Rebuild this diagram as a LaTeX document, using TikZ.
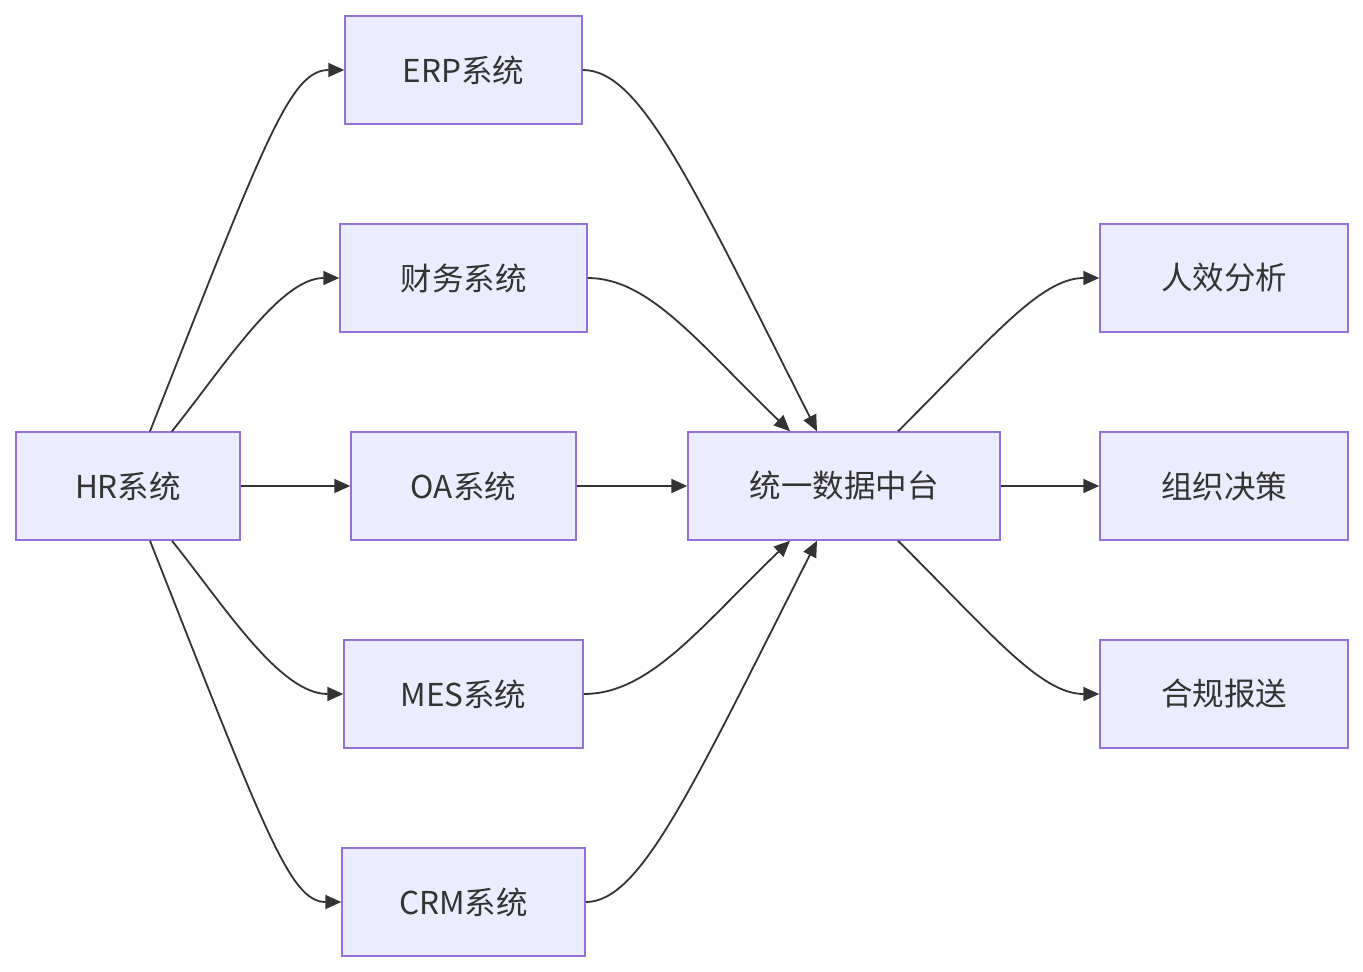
\documentclass[tikz,border=0pt]{standalone}
\usepackage{fontspec}
\setmainfont{Noto Sans CJK SC}
\usetikzlibrary{arrows.meta,calc}
\definecolor{boxfill}{HTML}{ECECFF}
\definecolor{boxline}{HTML}{9370DB}
\definecolor{ink}{HTML}{333333}
\begin{document}
\begin{tikzpicture}[x=1pt,y=-1pt,
  box/.style={draw=boxline,fill=boxfill,line width=1.5pt,minimum height=108pt,inner sep=0pt,text=ink,font=\fontsize{31.5}{36}\selectfont},
  link/.style={draw=ink,line width=1.8pt,-{Triangle[length=16pt,width=14pt]}}]
\useasboundingbox (0,0) rectangle (1363,972);
\node[box,minimum width=224pt] (hr) at (128,486) {HR系统};
\node[box,minimum width=237pt] (erp) at (463.5,70) {ERP系统};
\node[box,minimum width=247pt] (fin) at (463.5,278) {财务系统};
\node[box,minimum width=225pt] (oa) at (463.5,486) {OA系统};
\node[box,minimum width=239pt] (mes) at (463.5,694) {MES系统};
\node[box,minimum width=243pt] (crm) at (463.5,902) {CRM系统};
\node[box,minimum width=312pt] (hub) at (844,486) {统一数据中台};
\node[box,minimum width=248pt] (eff) at (1224,278) {人效分析};
\node[box,minimum width=248pt] (org) at (1224,486) {组织决策};
\node[box,minimum width=248pt] (cmp) at (1224,694) {合规报送};

\draw[link] ([xshift=22pt]hr.north) .. controls (265,140) and (290,70) .. (erp.west);
\draw[link] ([xshift=44pt]hr.north) .. controls (225,365) and (280,278) .. (fin.west);
\draw[link] (hr.east) -- (oa.west);
\draw[link] ([xshift=44pt]hr.south) .. controls (225,607) and (280,694) .. (mes.west);
\draw[link] ([xshift=22pt]hr.south) .. controls (265,832) and (290,902) .. (crm.west);

\draw[link] (erp.east) .. controls (640,70) and (690,180) .. ([xshift=-27pt]hub.north);
\draw[link] (fin.east) .. controls (650,278) and (700,345) .. ([xshift=-54pt]hub.north);
\draw[link] (oa.east) -- (hub.west);
\draw[link] (mes.east) .. controls (650,694) and (700,627) .. ([xshift=-54pt]hub.south);
\draw[link] (crm.east) .. controls (640,902) and (690,792) .. ([xshift=-27pt]hub.south);

\draw[link] ([xshift=54pt]hub.north) .. controls (990,340) and (1040,278) .. (eff.west);
\draw[link] (hub.east) -- (org.west);
\draw[link] ([xshift=54pt]hub.south) .. controls (990,632) and (1040,694) .. (cmp.west);
\end{tikzpicture}
\end{document}
